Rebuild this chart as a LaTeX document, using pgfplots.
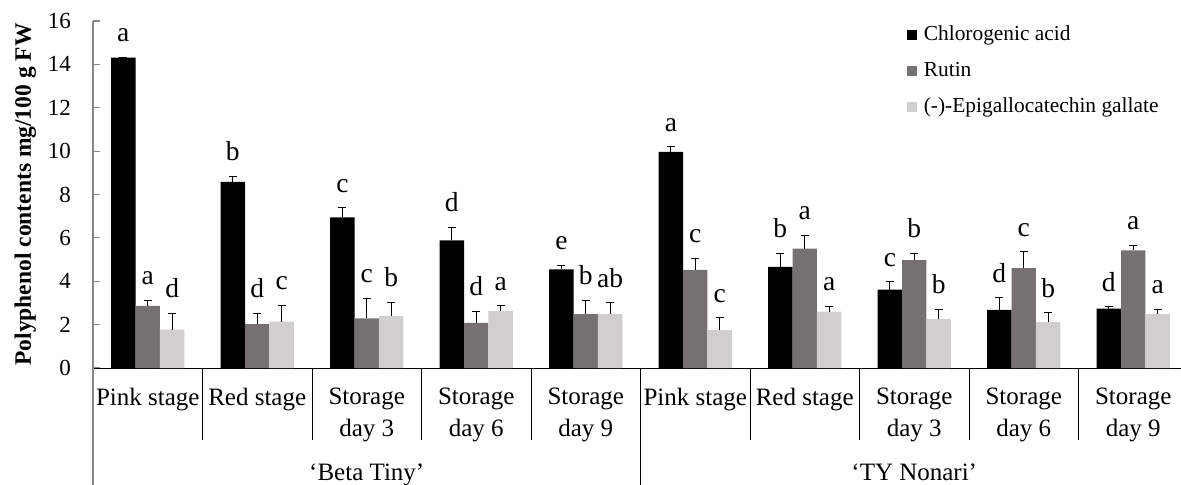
\documentclass[border=0pt]{standalone}
\usepackage{fontspec}
\setmainfont{Liberation Serif}
\usepackage{pgfplots}
\pgfplotsset{compat=1.18}
\usepackage{pgfplotstable}
\definecolor{cga}{HTML}{000000}
\definecolor{rut}{HTML}{767171}
\definecolor{egc}{HTML}{D0CECE}
\definecolor{axgray}{HTML}{868686}

\pgfplotstableread{
x y err lab
0 14.31 0.03 a
1 8.58 0.25 b
2 6.95 0.43 c
3 5.89 0.60 d
4 4.55 0.19 e
5 9.97 0.23 a
6 4.66 0.62 b
7 3.62 0.35 c
8 2.68 0.55 d
9 2.74 0.08 d
}\tabCGA

\pgfplotstableread{
x y err lab
0 2.86 0.25 a
1 2.02 0.49 d
2 2.29 0.93 c
3 2.08 0.52 d
4 2.49 0.63 b
5 4.52 0.55 c
6 5.51 0.61 a
7 4.98 0.31 b
8 4.60 0.75 c
9 5.42 0.23 a
}\tabRUT

\pgfplotstableread{
x y err lab
0 1.77 0.74 d
1 2.14 0.75 c
2 2.40 0.62 b
3 2.62 0.24 a
4 2.49 0.51 ab
5 1.75 0.57 c
6 2.60 0.23 a
7 2.25 0.46 b
8 2.12 0.42 b
9 2.48 0.24 a
}\tabEGC

\pgfplotsset{
  sqlegend/.style={legend image code/.code={\fill[##1] (0pt,-2.5pt) rectangle (5pt,2.5pt);}},
  mybar/.style={ybar, bar width=12.2pt, draw=none},
  errs/.style={forget plot, draw=none, mark=none,
    error bars/y dir=plus, error bars/y explicit,
    error bars/error bar style={draw=black, line width=0.5pt},
    error bars/error mark options={rotate=90, draw=black, line width=0.5pt, mark size=2pt}},
  letters/.style={draw=none, mark=none, forget plot, nodes near coords,
    point meta=explicit symbolic,
    nodes near coords style={anchor=south, inner sep=0pt, yshift=7.5pt,
      xshift=#1, font=\fontsize{13.75}{15}\selectfont, text=black}},
}

\begin{document}
\begin{tikzpicture}
\begin{axis}[
  scale only axis, width=544pt, height=173.5pt,
  xmin=-0.5, xmax=9.436, ymin=0, ymax=16,
  axis x line*=bottom, axis y line*=left,
  x axis line style={black, line width=0.5pt, -},
  y axis line style={axgray, line width=0.8pt, -},
  ytick={0,2,...,16},
  y tick style={axgray, line width=0.6pt},
  tick align=inside,
  major tick length=3.5pt,
  xtick={0,...,9},
  x tick style={draw=none},
  xticklabels={Pink stage, Red stage, {Storage\\day 3}, {Storage\\day 6}, {Storage\\day 9},
    Pink stage, Red stage, {Storage\\day 3}, {Storage\\day 6}, {Storage\\day 9}},
  xticklabel style={align=center, anchor=north, inner sep=0pt, yshift=-10pt,
    font=\fontsize{12.5}{15.75}\selectfont},
  yticklabel style={anchor=east, inner sep=0pt, xshift=-10.8pt, font=\fontsize{11.5}{13}\selectfont},
  /pgf/number format/assume math mode=true,
  ylabel={Polyphenol contents mg/100 g FW},
  every axis y label/.style={at={(axis description cs:-0.057,0.5)}, rotate=90, anchor=base,
    font=\bfseries\fontsize{11.75}{14}\selectfont},
  legend style={at={(rel axis cs:0.748,0.9885)}, anchor=north west, draw=none, fill=none,
    inner sep=0pt, row sep=8pt, column sep=3.3pt,
    nodes={inner sep=0pt, text height=7.5pt, text depth=2.5pt},
    font=\fontsize{10.7}{12}\selectfont},
  legend cell align=left,
  clip=false,
]
\addplot[mybar, bar shift=-12.2pt, fill=cga, sqlegend] table[x=x, y=y]{\tabCGA};
\addlegendentry{Chlorogenic acid}
\addplot[mybar, bar shift=0pt, fill=rut, sqlegend] table[x=x, y=y]{\tabRUT};
\addlegendentry{Rutin}
\addplot[mybar, bar shift=12.2pt, fill=egc, sqlegend] table[x=x, y=y]{\tabEGC};
\addlegendentry{(-)-Epigallocatechin gallate}

\addplot[errs] table[x expr=\thisrow{x}-0.22283, y=y, y error=err]{\tabCGA};
\addplot[errs] table[x=x, y=y, y error=err]{\tabRUT};
\addplot[errs] table[x expr=\thisrow{x}+0.22283, y=y, y error=err]{\tabEGC};

\addplot[letters=-12.2pt] table[x=x, y expr=\thisrow{y}+\thisrow{err}, meta=lab]{\tabCGA};
\addplot[letters=0pt] table[x=x, y expr=\thisrow{y}+\thisrow{err}, meta=lab]{\tabRUT};
\addplot[letters=12.2pt] table[x=x, y expr=\thisrow{y}+\thisrow{err}, meta=lab]{\tabEGC};

\draw[black, line width=0.5pt]
  (axis cs:0.5,0) -- ([yshift=-36pt]axis cs:0.5,0)
  (axis cs:1.5,0) -- ([yshift=-36pt]axis cs:1.5,0)
  (axis cs:2.5,0) -- ([yshift=-36pt]axis cs:2.5,0)
  (axis cs:3.5,0) -- ([yshift=-36pt]axis cs:3.5,0)
  (axis cs:5.5,0) -- ([yshift=-36pt]axis cs:5.5,0)
  (axis cs:6.5,0) -- ([yshift=-36pt]axis cs:6.5,0)
  (axis cs:7.5,0) -- ([yshift=-36pt]axis cs:7.5,0)
  (axis cs:8.5,0) -- ([yshift=-36pt]axis cs:8.5,0);
\draw[black, line width=0.5pt] (axis cs:4.5,0) -- ([yshift=-60pt]axis cs:4.5,0);
\draw[axgray, line width=0.8pt] (axis cs:-0.5,0) -- ([yshift=-60pt]axis cs:-0.5,0);
\node[anchor=base, yshift=-56pt, font=\fontsize{12.5}{14}\selectfont] at (axis cs:2,0) {‘Beta Tiny’};
\node[anchor=base, yshift=-56pt, font=\fontsize{12.5}{14}\selectfont] at (axis cs:7,0) {‘TY Nonari’};
\end{axis}
\pgfresetboundingbox
\path[use as bounding box] (-46.5pt,-58pt) rectangle (544pt,184pt);
\end{tikzpicture}
\end{document}
